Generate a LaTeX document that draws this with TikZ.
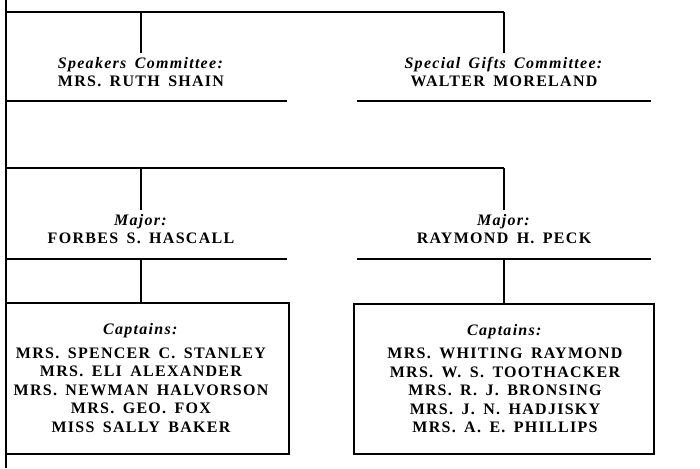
\documentclass[tikz,border=0pt]{standalone}
\usepackage{fontspec}
\setmainfont{Liberation Serif}[LetterSpace=8,WordSpace=1.6]
\begin{document}
\begin{tikzpicture}[x=1pt,y=-1pt]
\tikzset{bar/.style={line width=1.8pt},
  post/.style={align=center,inner sep=0pt,font=\fontsize{16}{18}\selectfont\bfseries},
  capbox/.style={draw,line width=1.8pt,inner sep=0pt},
  names/.style={align=center,inner sep=0pt,font=\fontsize{16}{18.5}\selectfont\bfseries}}
\useasboundingbox (0,0) rectangle (700,468);
% spine on the left
\coordinate (spinetop) at (6,0);
\coordinate (spinebot) at (6,468);
\draw[bar] (spinetop) -- (spinebot);
% committees
\coordinate (bara) at (6,12);
\coordinate (bare) at (504,12);
\node[post] (speak) at (141,72) {\textit{Speakers Committee:}\\MRS. RUTH SHAIN};
\node[post] (gifts) at (504,72) {\textit{Special Gifts Committee:}\\WALTER MORELAND};
\draw[bar] (bara) -- (bare);
\draw[bar,shorten >=4pt] (bara -| speak) -- (speak.north);
\draw[bar,shorten >=4pt] (bare) -- (gifts.north);
\coordinate (ula) at (6,101);
\coordinate (ulb) at (287,101);
\coordinate (ulc) at (357,101);
\coordinate (uld) at (651,101);
\draw[bar] (ula) -- (ulb);
\draw[bar] (ulc) -- (uld);
% majors
\coordinate (barb) at (6,168);
\coordinate (barf) at (504,168);
\node[post] (majl) at (141,229) {\textit{Major:}\\FORBES S. HASCALL};
\node[post] (majr) at (504,229) {\textit{Major:}\\RAYMOND H. PECK};
\draw[bar] (barb) -- (barf);
\draw[bar,shorten >=4pt] (barb -| majl) -- (majl.north);
\draw[bar,shorten >=4pt] (barf) -- (majr.north);
\coordinate (ule) at (6,259);
\coordinate (ulf) at (287,259);
\coordinate (ulg) at (357,259);
\coordinate (ulh) at (651,259);
\draw[bar] (ule) -- (ulf);
\draw[bar] (ulg) -- (ulh);
% captains
\node[capbox,minimum width=283pt,minimum height=151pt] (captl) at (147.5,378.5) {};
\node[capbox,minimum width=300pt,minimum height=150pt] (captr) at (504,379) {};
\node[names] (namesl) at (141,378)
  {\textit{Captains:}\\[5pt]MRS. SPENCER C. STANLEY\\MRS. ELI ALEXANDER\\MRS. NEWMAN HALVORSON\\MRS. GEO. FOX\\MISS SALLY BAKER};
\node[names] (namesr) at (505,378.5)
  {\textit{Captains:}\\[5pt]MRS. WHITING RAYMOND\\MRS. W. S. TOOTHACKER\\MRS. R. J. BRONSING\\MRS. J. N. HADJISKY\\MRS. A. E. PHILLIPS};
\coordinate (dropl) at (141,259);
\coordinate (dropr) at (504,259);
\draw[bar] (dropl) -- (dropl |- captl.north);
\draw[bar] (dropr) -- (captr.north);
\end{tikzpicture}
\end{document}
